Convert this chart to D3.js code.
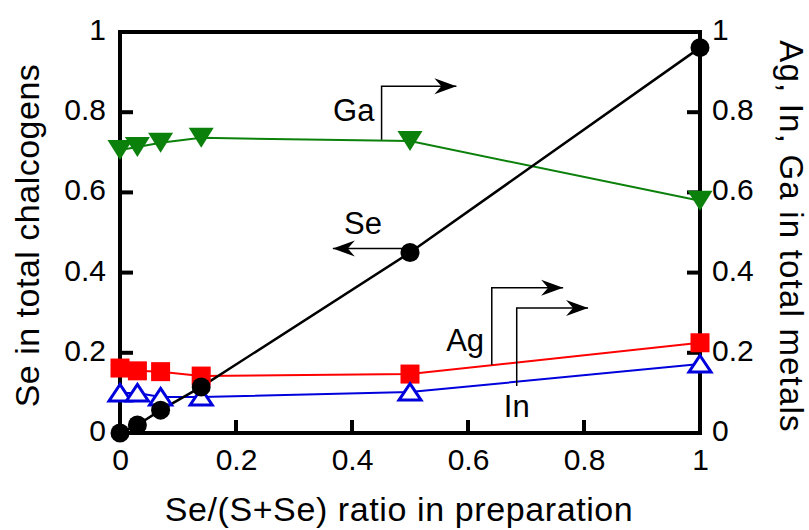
<!doctype html>
<html lang="en">
  <head>
    <meta charset="UTF-8" />
    <title>Se and metal ratios vs Se/(S+Se)</title>
    <script src="https://d3js.org/d3.v7.min.js"></script>
    <style>
      body {
        margin: 0;
        padding: 0;
        overflow: hidden;
        background: #fff;
      }
      svg {
        display: block;
        font-family: "Liberation Sans", Arial, sans-serif;
      }
    </style>
  </head>
  <body>
    <script>
      // Se/(S+Se) ratio in preparation
      const ratio = [0, 0.03, 0.07, 0.14, 0.5, 1];
      // left axis: Se in total chalcogens
      const seValues = [0, 0.02, 0.057, 0.115, 0.45, 0.961];
      // right axis: metal fractions
      const agValues = [0.162, 0.155, 0.153, 0.142, 0.147, 0.225];
      const inValues = [0.1, 0.1, 0.09, 0.09, 0.102, 0.172];
      const gaValues = [0.706, 0.713, 0.724, 0.736, 0.728, 0.579];
      const tickValues = [0, 0.2, 0.4, 0.6, 0.8, 1];

      // annotation arrows (data units): label, label pos, elbow path
      const notes = [
        { text: "Ga", lx: 0.403, ly: 0.805, path: [[0.451, 0.731], [0.451, 0.865], [0.58, 0.865]] },
        { text: "Se", lx: 0.419, ly: 0.524, path: [[0.5, 0.46], [0.367, 0.46]] },
        { text: "Ag", lx: 0.595, ly: 0.232, path: [[0.641, 0.17], [0.641, 0.362], [0.764, 0.362]] },
        { text: "In", lx: 0.684, ly: 0.068, path: [[0.684, 0.117], [0.684, 0.312], [0.807, 0.312]] },
      ];

      const width = 809;
      const height = 530;
      const x = d3.scaleLinear().domain([0, 1]).range([120, 700]);
      const yL = d3.scaleLinear().domain([0, 1]).range([433, 32]);
      const yR = d3.scaleLinear().domain([0, 1]).range([433, 32]);

      const svg = d3.select("body").append("svg").attr("width", width).attr("height", height);

      const fmt = (d) => String(d);
      const inner = [0.2, 0.4, 0.6, 0.8];

      // axes with inward ticks
      const gx = svg
        .append("g")
        .attr("transform", `translate(0,${yL(0)})`)
        .call(d3.axisBottom(x).tickValues(tickValues).tickFormat(fmt).tickSize(0).tickPadding(8));
      const gl = svg
        .append("g")
        .attr("transform", `translate(${x(0)},0)`)
        .call(d3.axisLeft(yL).tickValues(tickValues).tickFormat(fmt).tickSize(0).tickPadding(14));
      const gr = svg
        .append("g")
        .attr("transform", `translate(${x(1)},0)`)
        .call(d3.axisRight(yR).tickValues(tickValues).tickFormat(fmt).tickSize(0).tickPadding(12));
      [gx, gl, gr].forEach((g) => {
        g.select(".domain").remove();
        g.selectAll("text").attr("font-size", 30).attr("fill", "#000").attr("font-family", null);
      });
      gx.selectAll("text").attr("dy", "0.95em");
      gl.selectAll("text").attr("dy", "0.25em");
      gr.selectAll("text").attr("dy", "0.25em");

      const ticks = svg.append("g").attr("stroke", "#000").attr("stroke-width", 4);
      ticks
        .selectAll("line.b")
        .data(inner)
        .join("line")
        .attr("x1", (d) => x(d))
        .attr("x2", (d) => x(d))
        .attr("y1", yL(0))
        .attr("y2", yL(0) - 13);
      ticks
        .selectAll("line.l")
        .data(inner)
        .join("line")
        .attr("x1", x(0))
        .attr("x2", x(0) + 13)
        .attr("y1", (d) => yL(d))
        .attr("y2", (d) => yL(d));
      ticks
        .selectAll("line.r")
        .data(inner)
        .join("line")
        .attr("x1", x(1))
        .attr("x2", x(1) - 13)
        .attr("y1", (d) => yR(d))
        .attr("y2", (d) => yR(d));

      // frame
      svg
        .append("rect")
        .attr("x", x(0))
        .attr("y", yL(1))
        .attr("width", x(1) - x(0))
        .attr("height", yL(0) - yL(1))
        .attr("fill", "none")
        .attr("stroke", "#000")
        .attr("stroke-width", 4);

      // axis titles
      svg
        .append("text")
        .attr("x", 399)
        .attr("y", 521)
        .attr("text-anchor", "middle")
        .attr("font-size", 34)
        .attr("letter-spacing", 0.6)
        .text("Se/(S+Se) ratio in preparation");
      svg
        .append("text")
        .attr("transform", `translate(39,${(yL(0) + yL(1)) / 2 + 3}) rotate(-90)`)
        .attr("text-anchor", "middle")
        .attr("font-size", 34)
        .attr("letter-spacing", 0.5)
        .text("Se in total chalcogens");
      svg
        .append("text")
        .attr("transform", `translate(780,${(yL(0) + yL(1)) / 2 + 4}) rotate(90)`)
        .attr("text-anchor", "middle")
        .attr("font-size", 33)
        .attr("letter-spacing", 1.2)
        .text("Ag, In, Ga in total metals");

      // series lines
      const series = [
        { vals: gaValues, y: yR, color: "#0b800b" },
        { vals: agValues, y: yR, color: "#ff0000" },
        { vals: inValues, y: yR, color: "#0000dd" },
        { vals: seValues, y: yL, color: "#000" },
      ];
      series.forEach((s) => {
        const line = d3
          .line()
          .x((d, i) => x(ratio[i]))
          .y((d) => s.y(d));
        svg
          .append("path")
          .datum(s.vals)
          .attr("d", line)
          .attr("fill", "none")
          .attr("stroke", s.color)
          .attr("stroke-width", s.color === "#000" ? 2.5 : 2);
      });

      // annotations
      const arrowHead = "M0,0 L-22,-8 L-15,0 L-22,8 Z";
      const ann = svg.append("g");
      notes.forEach((n) => {
        const pts = n.path.map((p) => [x(p[0]), yL(p[1])]);
        ann
          .append("path")
          .attr("d", d3.line()(pts))
          .attr("fill", "none")
          .attr("stroke", "#000")
          .attr("stroke-width", 1.5);
        const a = pts[pts.length - 2];
        const b = pts[pts.length - 1];
        const ang = (Math.atan2(b[1] - a[1], b[0] - a[0]) * 180) / Math.PI;
        ann
          .append("path")
          .attr("d", arrowHead)
          .attr("transform", `translate(${b[0]},${b[1]}) rotate(${ang})`)
          .attr("fill", "#000");
        ann
          .append("text")
          .attr("x", x(n.lx))
          .attr("y", yL(n.ly))
          .attr("dy", "0.36em")
          .attr("text-anchor", "middle")
          .attr("font-size", 31)
          .text(n.text);
      });

      // markers
      const pts = (vals) => vals.map((v, i) => [ratio[i], v]);
      svg
        .append("g")
        .selectAll("path")
        .data(pts(gaValues))
        .join("path")
        .attr("d", "M-12.5,-10 L12.5,-10 L0,10 Z")
        .attr("transform", (d) => `translate(${x(d[0])},${yR(d[1])})`)
        .attr("fill", "#0b800b");
      svg
        .append("g")
        .selectAll("rect")
        .data(pts(agValues))
        .join("rect")
        .attr("x", (d) => x(d[0]) - 9.5)
        .attr("y", (d) => yR(d[1]) - 9.5)
        .attr("width", 19)
        .attr("height", 19)
        .attr("fill", "#ff0000");
      svg
        .append("g")
        .selectAll("path")
        .data(pts(inValues))
        .join("path")
        .attr("d", "M0,-8.5 L11,8 L-11,8 Z")
        .attr("transform", (d) => `translate(${x(d[0])},${yR(d[1])})`)
        .attr("fill", "#fff")
        .attr("stroke", "#0000dd")
        .attr("stroke-width", 3);
      svg
        .append("g")
        .selectAll("circle")
        .data(pts(seValues))
        .join("circle")
        .attr("cx", (d) => x(d[0]))
        .attr("cy", (d) => yL(d[1]))
        .attr("r", 9.5)
        .attr("fill", "#000");
    </script>
  </body>
</html>
